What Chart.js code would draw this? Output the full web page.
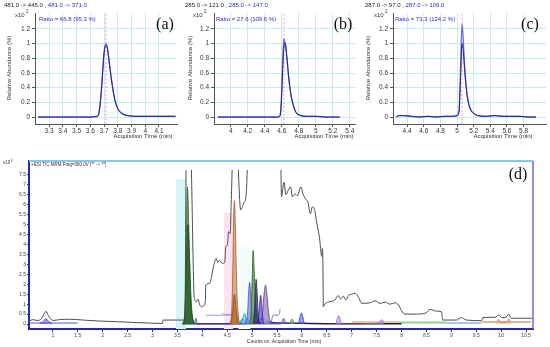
<!DOCTYPE html>
<html lang="en">

<head>
    <meta charset="UTF-8">
    <title>MRM chromatograms</title>
    <script src="https://cdn.jsdelivr.net/npm/chart.js@4.4.3/dist/chart.umd.min.js"></script>
    <style>
        body { margin: 0; background: #fff; }
        #wrap { position: relative; width: 550px; height: 347px; overflow: hidden; }
        canvas { position: absolute; }
    </style>
</head>

<body>
    <div id="wrap">
        <canvas id="chartA" width="182" height="140" style="left:0;top:0"></canvas>
        <canvas id="chartB" width="182" height="140" style="left:182px;top:0"></canvas>
        <canvas id="chartC" width="186" height="140" style="left:364px;top:0"></canvas>
        <canvas id="chartD" width="550" height="197" style="left:0;top:150px"></canvas>
    </div>

    <script>
        const sans = '"Liberation Sans", Arial, sans-serif'
        const serif = '"Liberation Serif", "Times New Roman", serif'

        // ---- (a)-(c): extracted ion chromatograms (x10^2 relative abundance) ----
        const relTicks = [0, 0.2, 0.4, 0.6, 0.8, 1, 1.2]
        const retTimes = [3.714, 4.625, 5.06]

        const xTicksA = [3.3, 3.4, 3.5, 3.6, 3.7, 3.8, 3.9, 4, 4.1]
        const timeA = [3.22, 3.3, 3.4, 3.5, 3.6, 3.65, 3.665, 3.68, 3.69, 3.70, 3.714, 3.725, 3.74, 3.76, 3.78, 3.80, 3.83, 3.87, 3.95, 4.05, 4.15, 4.22]
        const qualA = [0, 0, 0, 0, 0, 0.01, 0.08, 0.35, 0.62, 0.88, 1.0, 0.94, 0.72, 0.43, 0.22, 0.11, 0.05, 0.02, 0.01, 0.01, 0.01, 0.01]
        const quantA = [0, 0, 0, 0, 0, 0.01, 0.07, 0.33, 0.6, 0.86, 0.98, 0.93, 0.71, 0.44, 0.23, 0.12, 0.05, 0.02, 0.01, 0.01, 0.01, 0.01]

        const xTicksB = [4, 4.2, 4.4, 4.6, 4.8, 5, 5.2, 5.4]
        const timeB = [3.85, 4.0, 4.2, 4.4, 4.55, 4.58, 4.595, 4.61, 4.625, 4.64, 4.66, 4.68, 4.70, 4.72, 4.76, 4.80, 4.9, 5.0, 5.1, 5.2, 5.28]
        const qualB = [0, 0, 0, 0, 0, 0.02, 0.25, 0.75, 1.07, 1.0, 0.8, 0.55, 0.36, 0.23, 0.08, 0.03, 0.01, 0.01, 0, 0, 0]
        const quantB = [0, 0, 0, 0, 0, 0.02, 0.2, 0.62, 0.95, 1.01, 0.82, 0.56, 0.37, 0.23, 0.08, 0.03, 0.01, 0.01, 0, 0, 0]

        const xTicksC = [4.4, 4.6, 4.8, 5, 5.2, 5.4, 5.6, 5.8]
        const timeC = [4.27, 4.3, 4.35, 4.45, 4.55, 4.65, 4.75, 4.85, 4.95, 5.0, 5.025, 5.04, 5.06, 5.075, 5.09, 5.11, 5.13, 5.16, 5.2, 5.25, 5.35, 5.45, 5.55, 5.65, 5.75, 5.85, 5.95]
        const qualC = [0, 0.02, 0.02, 0.01, 0, 0.01, 0, 0.01, 0.01, 0.02, 0.1, 0.6, 1.27, 1.05, 0.72, 0.42, 0.24, 0.11, 0.05, 0.02, 0.01, 0.02, 0.01, 0.01, 0.01, 0, 0]
        const quantC = [0, 0.02, 0.02, 0.01, 0, 0.01, 0, 0.01, 0.01, 0.02, 0.08, 0.45, 1.0, 0.9, 0.66, 0.4, 0.23, 0.11, 0.05, 0.02, 0.01, 0.02, 0.01, 0.01, 0.01, 0, 0]

        // ---- (d): TIC + individual MRM traces (x10^3 counts) ----
        const xTicksD = [1, 1.5, 2, 2.5, 3, 3.5, 4, 4.5, 5, 5.5, 6, 6.5, 7, 7.5, 8, 8.5, 9, 9.5, 10, 10.5]
        const countTicks = [0, 0.5, 1, 1.5, 2, 2.5, 3, 3.5, 4, 4.5, 5, 5.5, 6, 6.5, 7, 7.5]

        // [time, counts]; 9 = off scale
        const ticTrace = [[0.52, 0.15], [0.60, 0.22], [0.68, 0.18], [0.74, 0.2], [0.80, 0.4], [0.86, 0.64], [0.91, 0.42], [1.0, 0.18], [1.13, 0.22], [1.34, 0.24], [1.61, 0.2], [1.94, 0.15], [2.28, 0.12], [2.61, 0.08], [2.94, 0.05], [3.20, 0.03], [3.21, 0.2], [3.65, 0.2], [3.68, 9], [3.76, 9], [3.84, 1.29], [3.88, 1.12], [3.91, 1.25], [3.95, 0.96], [3.98, 0.87], [4.03, 0.92], [4.06, 1.12], [4.07, 1.96], [4.15, 2.05], [4.18, 2.3], [4.21, 2.72], [4.25, 3.14], [4.28, 3.3], [4.31, 3.1], [4.35, 3.2], [4.40, 3.05], [4.45, 3.1], [4.47, 3.9], [4.50, 3.95], [4.53, 4.65], [4.56, 4.55], [4.58, 6.06], [4.62, 9], [4.69, 9], [4.77, 5.74], [4.83, 6.07], [4.88, 6.5], [4.93, 9], [5.57, 9], [5.59, 6.4], [5.64, 7.13], [5.68, 6.5], [5.72, 6.7], [5.77, 6.9], [5.81, 6.4], [5.86, 6.55], [5.91, 6.45], [5.98, 6.9], [6.02, 6.55], [6.08, 6.27], [6.12, 6.13], [6.17, 5.55], [6.21, 5.9], [6.26, 5.7], [6.29, 5.2], [6.35, 4.4], [6.40, 3.4], [6.41, 3.8], [6.42, 3.3], [6.43, 0.87], [6.46, 1.0], [6.53, 1.1], [6.60, 1.15], [6.66, 1.2], [6.73, 1.43], [6.78, 1.26], [6.83, 1.4], [6.88, 1.22], [6.94, 1.45], [7.0, 1.5], [7.07, 1.55], [7.14, 1.33], [7.2, 1.04], [7.37, 1.07], [7.47, 1.17], [7.57, 1.04], [7.67, 1.1], [7.77, 1.0], [7.87, 1.07], [7.94, 0.96], [8.0, 0.67], [8.07, 0.5], [8.3, 0.5], [8.5, 0.57], [8.57, 0.74], [8.7, 0.65], [8.8, 0.62], [8.83, 0.2], [9.1, 0.2], [9.2, 0.32], [9.3, 0.2], [9.61, 0.17], [9.63, 0.32], [9.88, 0.34], [9.95, 0.45], [10.02, 0.32], [10.1, 0.34], [10.15, 0.5], [10.2, 0.29], [10.62, 0.29]]

        const peakGreenTall = [[3.60, 0], [3.64, 0.3], [3.66, 1.5], [3.68, 4.5], [3.70, 6.9], [3.72, 5.8], [3.74, 3.4], [3.76, 1.5], [3.79, 0.5], [3.84, 0]]
        const peakGreenLow = [[3.61, 0], [3.65, 0.5], [3.68, 2.8], [3.71, 5.0], [3.74, 3.6], [3.77, 1.5], [3.80, 0.4], [3.85, 0]]
        const peakTanTall = [[4.56, 0], [4.59, 0.6], [4.61, 2.4], [4.63, 5.4], [4.645, 6.2], [4.66, 5.3], [4.68, 3.0], [4.70, 1.3], [4.73, 0.3], [4.76, 0]]
        const peakTanLow = [[4.57, 0], [4.61, 0.6], [4.645, 1.5], [4.68, 0.7], [4.72, 0]]
        const peakGreen5 = [[4.95, 0], [4.98, 0.6], [5.0, 2.2], [5.02, 3.7], [5.04, 2.8], [5.06, 1.4], [5.09, 0.4], [5.12, 0]]
        const peakBlue = [[4.87, 0], [4.91, 0.6], [4.93, 1.6], [4.95, 2.1], [4.97, 1.6], [4.99, 0.7], [5.02, 0]]
        const peakNavy = [[5.02, 0], [5.05, 0.8], [5.07, 1.9], [5.08, 2.25], [5.10, 1.6], [5.12, 0.6], [5.15, 0]]
        const peakLavender = [[5.17, 0], [5.21, 0.6], [5.24, 1.5], [5.27, 1.95], [5.30, 1.4], [5.33, 0.6], [5.37, 0]]
        const peakViolet = [[5.11, 0], [5.14, 0.6], [5.17, 1.45], [5.20, 0.7], [5.23, 0]]
        const peakCyan = [[4.78, 0], [4.82, 0.35], [4.85, 0.55], [4.88, 0.3], [4.92, 0]]
        const bumpLate = [[3.84, 0], [3.87, 0.3], [3.90, 0], [5.58, 0], [5.63, 0.3], [5.68, 0]]
        const bumpGreenLate = [[5.75, 0], [5.8, 0.25], [5.85, 0]]
        const bumpBlueLate = [[5.93, 0], [5.99, 0.55], [6.05, 0]]
        const bumpLilac = [[6.68, 0], [6.74, 0.42], [6.8, 0], [7.55, 0.05], [7.6, 0.22], [7.65, 0.05]]
        const bumpEarly = [[0.74, 0.05], [0.80, 0.12], [0.86, 0.27], [0.92, 0.12], [0.98, 0.05]]
        const bumpTail = [[9.9, 0.1], [9.95, 0.22], [10.0, 0.1], [10.1, 0.1], [10.15, 0.25], [10.2, 0.1]]

        const baseBlue = [[0.52, 0.05], [1.5, 0.05]]
        const lineLightBlue = [[4.08, 0.42], [4.2, 0.45], [4.3, 0.43], [4.4, 0.46], [4.5, 0.44], [4.6, 0.45]]
        const linePink = [[4.4, 0.5], [4.5, 0.48], [4.6, 0.5], [4.68, 0.45]]
        const lineNoise = [[4.6, 0.05], [4.7, 0.15], [4.75, 0.05], [4.8, 0.25], [4.85, 0.1], [4.9, 0.3], [4.95, 0.1], [5.0, 0.2], [5.1, 0.1], [5.2, 0.3], [5.3, 0.15], [5.4, 0.1], [5.5, 0.05]]
        const stepViolet = [[5.38, 0], [5.42, 0.45], [5.5, 0.45], [5.55, 0.5], [5.56, 0.75]]
        const baseNavy = [[3.6, 0.02], [4.5, 0.02], [5.5, 0.05], [6.5, 0.02], [8.0, 0.02]]
        const baseYellow = [[7.0, 0.1], [7.95, 0.1]]
        const baseGreen = [[7.95, 0.08], [8.9, 0.08]]
        const baseSky = [[8.9, 0.05], [9.6, 0.05]]
        const baseOrange = [[9.6, 0.1], [10.6, 0.1]]

        // integration windows (shaded)
        const windowCyan = [[3.47, 7.3], [3.68, 7.3]]
        const windowPink = [[4.43, 5.6], [4.62, 5.6]]
        const windowPale = [[4.72, 4.0], [4.97, 4.0]]


        const xy = pairs => pairs.map(p => ({ x: p[0], y: p[1] }))
        const zip = (t, v) => t.map((x, i) => ({ x, y: v[i] }))
        const fixedTicks = list => scale => { scale.ticks = list.map(v => ({ value: v })) }

        const textPlugin = {
            id: 'panelText',
            afterDraw(chart, args, opts) {
                const ctx = chart.ctx
                const area = chart.chartArea
                if (opts.frame) {
                    ctx.save()
                    ctx.strokeStyle = opts.frame.top
                    ctx.lineWidth = 2
                    ctx.beginPath()
                    ctx.moveTo(area.left, area.top)
                    ctx.lineTo(area.right, area.top)
                    ctx.stroke()
                    ctx.strokeStyle = opts.frame.right
                    ctx.lineWidth = 1.5
                    ctx.beginPath()
                    ctx.moveTo(area.right, area.top)
                    ctx.lineTo(area.right, area.bottom)
                    ctx.stroke()
                    ctx.restore()
                }
                for (const it of opts.items || []) {
                    ctx.save()
                    ctx.font = it.size + 'px ' + (it.family || sans)
                    ctx.textBaseline = 'middle'
                    ctx.textAlign = it.align || 'left'
                    ctx.translate(it.x, it.y)
                    if (it.rotate) ctx.rotate(it.rotate)
                    let x = 0
                    for (const [s, c] of (it.parts || [[it.text, it.color]])) {
                        ctx.fillStyle = c || '#333'
                        ctx.fillText(s, x, 0)
                        x += ctx.measureText(s).width
                    }
                    ctx.restore()
                }
            }
        }

        function xicChart(id, cfg) {
            const xMark = [{ x: cfg.rt, y: -0.095 }, { x: cfg.rt, y: 1.418 }]
            return new Chart(document.getElementById(id), {
                type: 'line',
                data: {
                    datasets: [
                        { data: zip(cfg.time, cfg.quant), borderColor: '#24247e', borderWidth: 1 },
                        { data: zip(cfg.time, cfg.qual), borderColor: '#6a6aec', borderWidth: 1.3 },
                        { data: xMark, borderColor: '#e77ad6', borderWidth: 0.8, borderDash: [2, 2], tension: 0 },
                    ],
                },
                options: {
                    responsive: false,
                    animation: false,
                    layout: { padding: { top: 13, right: cfg.padRight, left: 0, bottom: 0 } },
                    elements: { point: { radius: 0 }, line: { cubicInterpolationMode: 'monotone' } },
                    plugins: {
                        legend: { display: false },
                        tooltip: { enabled: false },
                        panelText: { items: cfg.items },
                    },
                    scales: {
                        x: {
                            type: 'linear', min: cfg.xMin, max: cfg.xMax,
                            afterBuildTicks: fixedTicks(cfg.xTicks),
                            afterFit: s => { s.height = 16 },
                            grid: { color: '#c6eaf0', tickColor: '#555', tickLength: 3 },
                            border: { color: '#555' },
                            ticks: { font: { size: 6.5, family: sans }, color: '#333', padding: 0, maxRotation: 0, autoSkip: false, callback: v => String(v) },
                        },
                        y: {
                            type: 'linear', min: -0.095, max: 1.418,
                            afterBuildTicks: fixedTicks(relTicks),
                            afterFit: s => { s.width = cfg.yWidth },
                            grid: { color: '#c6eaf0', tickColor: '#555', tickLength: 3 },
                            border: { color: '#555' },
                            ticks: { font: { size: 6.5, family: sans }, color: '#333', padding: 2, autoSkip: false, callback: v => String(v) },
                        },
                    },
                },
                plugins: [textPlugin],
            })
        }

        const blue = '#2b2bd0'
        const yTitle = 'Relative Abundance (%)'
        const xTitle = 'Acquisition Time (min)'

        xicChart('chartA', {
            time: timeA, qual: qualA, quant: quantA, rt: retTimes[0],
            xMin: 3.198, xMax: 4.231, xTicks: xTicksA, yWidth: 35, padRight: 5,
            items: [
                { x: 4, y: 5, size: 6, parts: [['481.0 -> 445.0', '#222'], [' , 481.0 -> 371.0', blue]] },
                { x: 15, y: 15, size: 6, text: 'x10' },
                { x: 26, y: 12, size: 4.5, text: '2' },
                { x: 39, y: 19.5, size: 6, text: 'Ratio = 66.8 (95.3 %)', color: blue },
                { x: 165, y: 25, size: 16, family: serif, align: 'center', text: '(a)', color: '#111' },
                { x: 9, y: 68, size: 6, align: 'center', rotate: -Math.PI / 2, text: yTitle },
                { x: 143, y: 136, size: 6, align: 'center', text: xTitle },
            ],
        })

        xicChart('chartB', {
            time: timeB, qual: qualB, quant: quantB, rt: retTimes[1],
            xMin: 3.804, xMax: 5.46, xTicks: xTicksB, yWidth: 32, padRight: 9,
            items: [
                { x: 3, y: 5, size: 6, parts: [['285.0 -> 121.0', '#222'], [' , 285.0 -> 147.0', blue]] },
                { x: 11, y: 15, size: 6, text: 'x10' },
                { x: 22, y: 12, size: 4.5, text: '2' },
                { x: 34, y: 19.5, size: 6, text: 'Ratio = 27.6 (109.6 %)', color: blue },
                { x: 161, y: 25, size: 16, family: serif, align: 'center', text: '(b)', color: '#111' },
                { x: 8, y: 68, size: 6, align: 'center', rotate: -Math.PI / 2, text: yTitle },
                { x: 142, y: 136, size: 6, align: 'center', text: xTitle },
            ],
        })

        xicChart('chartC', {
            time: timeC, qual: qualC, quant: quantC, rt: retTimes[2],
            xMin: 4.23, xMax: 6.07, xTicks: xTicksC, yWidth: 29, padRight: 4,
            items: [
                { x: 1, y: 5, size: 6, parts: [['287.0 -> 97.0', '#222'], [' , 287.0 -> 109.0', blue]] },
                { x: 10, y: 15, size: 6, text: 'x10' },
                { x: 21, y: 12, size: 4.5, text: '2' },
                { x: 31, y: 19.5, size: 6, text: 'Ratio = 73.3 (124.2 %)', color: blue },
                { x: 166, y: 25, size: 16, family: serif, align: 'center', text: '(c)', color: '#111' },
                { x: 4, y: 68, size: 6, align: 'center', rotate: -Math.PI / 2, text: yTitle },
                { x: 139, y: 136, size: 6, align: 'center', text: xTitle },
            ],
        })

        // ---- panel (d) ----
        const clipTop = { left: 0, top: -9, right: 0, bottom: 0 }
        const trace = (pairs, color, width, order) => ({ data: xy(pairs), borderColor: color, borderWidth: width, fill: false, order })
        const peak = (pairs, border, fillColor, order) => ({ data: xy(pairs), borderColor: border, borderWidth: 0.8, backgroundColor: fillColor, fill: 'origin', order })
        const shade = (pairs, color) => ({ data: xy(pairs), borderWidth: 0, backgroundColor: color, fill: 'start', order: 9, tension: 0 })

        new Chart(document.getElementById('chartD'), {
            type: 'line',
            data: {
                datasets: [
                    trace(ticTrace, '#4d4d4d', 1, 0),
                    peak(peakGreenTall, '#2c5a26', 'rgba(86,150,74,0.85)', 3),
                    peak(peakGreenLow, '#1e4a1e', 'rgba(40,98,40,0.85)', 2),
                    peak(peakTanTall, '#9a5a2a', 'rgba(212,150,105,0.8)', 3),
                    peak(peakTanLow, '#8a4a1a', 'rgba(190,110,40,0.85)', 2),
                    peak(peakGreen5, '#2c5a26', 'rgba(86,150,74,0.8)', 3),
                    peak(peakBlue, '#4050c0', 'rgba(110,130,235,0.7)', 3),
                    peak(peakNavy, '#222255', 'rgba(50,50,110,0.8)', 2),
                    peak(peakLavender, '#5a3aa0', 'rgba(150,135,180,0.75)', 3),
                    peak(peakViolet, '#4020b0', 'rgba(100,70,220,0.7)', 2),
                    peak(peakCyan, '#2a9ab8', 'rgba(60,190,220,0.6)', 3),
                    peak(bumpLate, '#6050c0', 'rgba(120,100,220,0.5)', 3),
                    peak(bumpGreenLate, '#4a8a3a', 'rgba(110,180,90,0.6)', 3),
                    peak(bumpBlueLate, '#3a3ac0', 'rgba(90,90,230,0.6)', 3),
                    peak(bumpLilac, '#9060d0', 'rgba(180,140,230,0.6)', 3),
                    peak(bumpEarly, '#4a40d0', 'rgba(90,80,230,0.6)', 3),
                    peak(bumpTail, '#c07aa0', 'rgba(230,170,110,0.6)', 3),
                    trace(baseBlue, '#5050e0', 1, 4),
                    trace(lineLightBlue, '#7aa0e8', 1, 4),
                    trace(linePink, '#e080c0', 1, 4),
                    trace(lineNoise, '#2030c0', 0.8, 4),
                    trace(stepViolet, '#9070e0', 1, 4),
                    trace(baseNavy, '#202060', 1.5, 4),
                    trace(baseYellow, '#d8c060', 1.5, 4),
                    trace(baseGreen, '#90d090', 2, 4),
                    trace(baseSky, '#a0c8f0', 2, 4),
                    trace(baseOrange, '#d0a070', 1.5, 4),
                    shade(windowCyan, '#d4f6f6'),
                    shade(windowPink, '#fde2f0'),
                    shade(windowPale, '#f4fcfc'),
                ],
            },
            options: {
                responsive: false,
                animation: false,
                layout: { padding: { top: 11, right: 17, left: 0, bottom: 0 } },
                elements: { point: { radius: 0 }, line: { cubicInterpolationMode: 'monotone' } },
                datasets: { line: { clip: clipTop } },
                plugins: {
                    legend: { display: false },
                    tooltip: { enabled: false },
                    panelText: {
                        frame: { top: '#8cc6e6', right: '#6a6ad8' },
                        items: [
                            { x: 3, y: 13, size: 4.5, text: 'x10' },
                            { x: 10.5, y: 11, size: 3.5, text: '3' },
                            { x: 31, y: 15, size: 4.5, text: '+ESI TIC MRM Frag=380.0V [** -> **]' },
                            { x: 518, y: 25, size: 16, family: serif, align: 'center', text: '(d)', color: '#111' },
                            { x: 284, y: 192, size: 5, align: 'center', text: 'Counts vs. Acquisition Time (min)' },
                        ],
                    },
                },
                scales: {
                    x: {
                        type: 'linear', min: 0.52, max: 10.64,
                        afterBuildTicks: fixedTicks(xTicksD),
                        afterFit: s => { s.height = 18 },
                        grid: { drawOnChartArea: false, tickColor: '#2a2aa0', tickLength: 3 },
                        border: { color: '#2a2aa0', width: 2 },
                        ticks: { font: { size: 5, family: sans }, color: '#444', padding: 1, maxRotation: 0, autoSkip: false, callback: v => String(v) },
                    },
                    y: {
                        type: 'linear', min: -0.25, max: 8.2,
                        afterBuildTicks: fixedTicks(countTicks),
                        afterFit: s => { s.width = 29 },
                        grid: { drawOnChartArea: false, tickColor: '#2a2aa0', tickLength: 2 },
                        border: { color: '#2a2aa0', width: 2 },
                        ticks: { font: { size: 5, family: sans }, color: '#444', padding: 1, autoSkip: false, callback: v => String(v) },
                    },
                },
            },
            plugins: [textPlugin],
        })
    </script>

</body>

</html>
